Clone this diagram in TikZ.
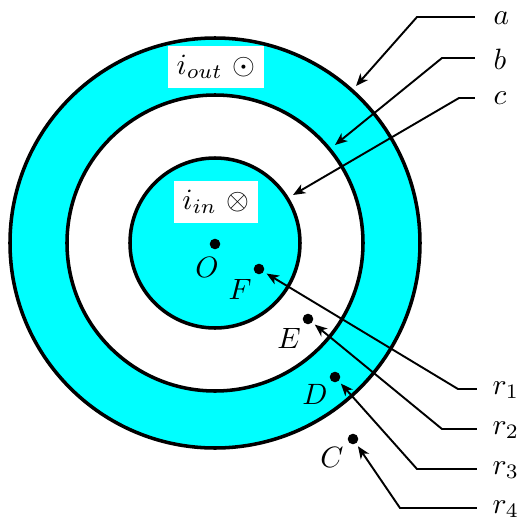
\documentclass[tikz,border=0pt]{standalone}
\usetikzlibrary{arrows.meta}
\definecolor{aquafill}{RGB}{0,255,255}
\begin{document}
\begin{tikzpicture}[x=0.34pt,y=-0.34pt,
  ring/.style={line width=1.2pt},
  lead/.style={line width=0.65pt,-{Stealth[length=4.2pt,width=3.4pt,inset=1.2pt]}},
  dotpt/.style={circle,fill=black,inner sep=0pt,minimum size=3.6pt},
  tag/.style={anchor=west,inner sep=0pt},
  cur/.style={fill=white,inner sep=3pt}]
\useasboundingbox (0,0) rectangle (520,519);
% filled regions
\fill[aquafill] (215,243) circle (205);
\fill[white] (215,243) circle (148);
\fill[aquafill] (215,243) circle (85);
\draw[ring] (215,243) circle (205);
\draw[ring] (215,243) circle (148);
\draw[ring] (215,243) circle (85);
% current labels
\node[cur] (iout) at (216,67) {$i_{out}$ $\odot$};
\node[cur] (iin) at (216,202) {$i_{in}$ $\otimes$};
% points
\node[dotpt] (O) at (215,244) {};
\node[dotpt] (F) at (259,269) {};
\node[dotpt] (E) at (308,319) {};
\node[dotpt] (D) at (335,377) {};
\node[dotpt] (C) at (353,439) {};
\node (Ol) at (207,267) {$O$};
\node (Fl) at (240,289) {$F$};
\node (El) at (289,338) {$E$};
\node (Dl) at (315,394) {$D$};
\node (Cl) at (332,457) {$C$};
% top leads
\node[tag] (la) at (493,18) {$a$};
\node[tag] (lb) at (493,59) {$b$};
\node[tag] (lc) at (493,98) {$c$};
\coordinate (a1) at (475,17);  \coordinate (a2) at (417,17);  \coordinate (a3) at (356,86);
\coordinate (b1) at (475,58);  \coordinate (b2) at (442,58);  \coordinate (b3) at (335,145);
\coordinate (c1) at (475,98);  \coordinate (c2) at (459,98);  \coordinate (c3) at (293,195);
\draw[lead] (a1) -- (a2) -- (a3);
\draw[lead] (b1) -- (b2) -- (b3);
\draw[lead] (c1) -- (c2) -- (c3);
% bottom leads
\node[tag] (r1) at (492,390) {$r_1$};
\node[tag] (r2) at (492,430) {$r_2$};
\node[tag] (r3) at (492,470) {$r_3$};
\node[tag] (r4) at (492,509) {$r_4$};
\coordinate (p1) at (477,389); \coordinate (q1) at (458,389);
\coordinate (p2) at (477,429); \coordinate (q2) at (442,429);
\coordinate (p3) at (477,469); \coordinate (q3) at (417,469);
\coordinate (p4) at (477,508); \coordinate (q4) at (400,508);
\draw[lead,shorten >=1pt] (p1) -- (q1) -- (F);
\draw[lead,shorten >=1pt] (p2) -- (q2) -- (E);
\draw[lead,shorten >=1pt] (p3) -- (q3) -- (D);
\draw[lead,shorten >=1pt] (p4) -- (q4) -- (C);
\end{tikzpicture}
\end{document}
